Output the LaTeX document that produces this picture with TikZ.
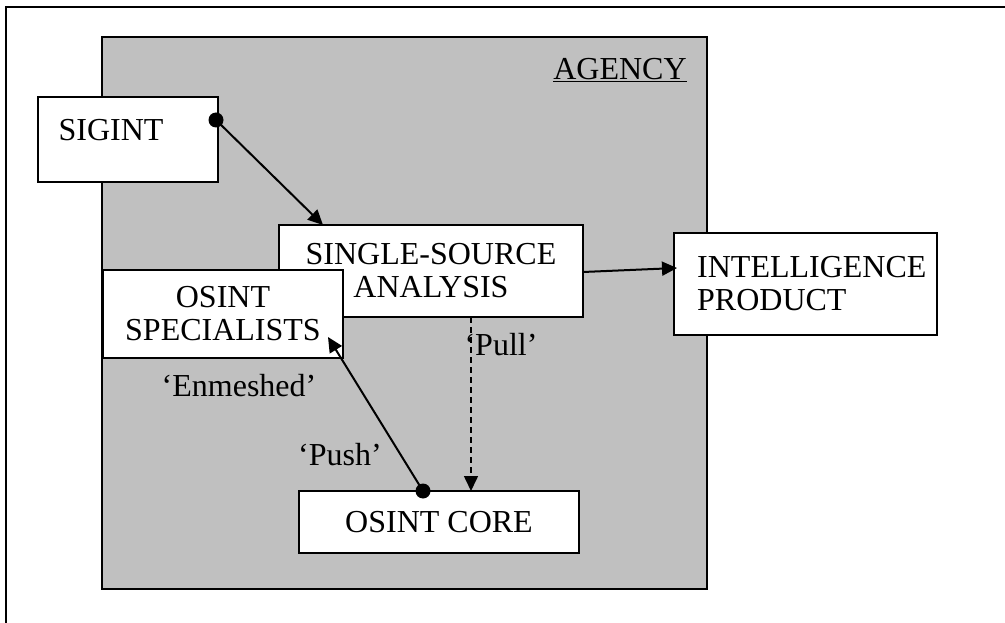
\documentclass[tikz,border=0pt]{standalone}
\usepackage{fontspec}
\setmainfont{Liberation Serif}
\usetikzlibrary{arrows.meta}
\definecolor{agencygray}{HTML}{C0C0C0}
\tikzset{
  box/.style={draw=black, line width=2.4pt, fill=white, inner sep=0pt, outer sep=0pt},
  boxtext/.style={font=\fontsize{32}{35}\selectfont, align=center, inner sep=0pt},
  link/.style={line width=2pt, -{Triangle[length=15pt, width=14pt]}},
  lbl/.style={font=\fontsize{32}{35}\selectfont, inner sep=0pt},
  dotend/.style={fill=black, circle, inner sep=0pt, minimum size=15pt}
}
\begin{document}
\begin{tikzpicture}[x=1pt, y=-1pt]
\useasboundingbox (0,0) rectangle (1005,623);
\fill[white] (0,0) rectangle (1005,623);

% outer frame (open on right and bottom)
\draw[line width=2.4pt] (6,630) -- (6,7) -- (1010,7);

% agency area
\node[draw=black, line width=2.4pt, fill=agencygray, minimum width=605pt, minimum height=552pt, inner sep=0pt] (agency) at (404.5,313) {};
\node[lbl] (agencylbl) at (620,70) {\underline{AGENCY}};

% boxes
\node[box, minimum width=180pt, minimum height=85pt] (sigint) at (128,139.5) {};
\node[boxtext] (sigintlbl) at (111,130) {SIGINT};

\node[box, boxtext, minimum width=304pt, minimum height=92pt] (ssa) at (431,271) {SINGLE-SOURCE\\[-2pt]ANALYSIS};

\node[box, minimum width=263pt, minimum height=102pt] (prod) at (805.5,284) {};
\node[boxtext, align=left, anchor=west] (prodlbl) at (697,284) {INTELLIGENCE\\[-2pt]PRODUCT};

\node[box, boxtext, minimum width=240pt, minimum height=88pt] (spec) at (223,314) {OSINT\\[-2pt]SPECIALISTS};

\node[box, boxtext, minimum width=280pt, minimum height=62pt] (core) at (439,522) {OSINT CORE};

% connector end points
\coordinate (sigdot) at (216,120);
\coordinate (ssatop) at (323,225);
\coordinate (ssaright) at (583,272);
\coordinate (prodleft) at (677,268);
\coordinate (coredot) at (423,491);
\coordinate (spectip) at (328,337);
\coordinate (pullstart) at (471,317);
\coordinate (pullend) at (471,491);

% connectors
\draw[link] (sigdot) -- (ssatop);
\node[dotend] (sigdotmark) at (sigdot) {};
\draw[link] (ssaright) -- (prodleft);
\draw[link, dash pattern=on 6pt off 4pt, line width=1.6pt] (pullstart) -- (pullend);
\draw[link] (coredot) -- (spectip);
\node[dotend] (coredotmark) at (coredot) {};

% labels
\node[lbl] (pulllbl) at (501,345) {‘Pull’};
\node[lbl] (enmlbl) at (239,386) {‘Enmeshed’};
\node[lbl] (pushlbl) at (340,455) {‘Push’};
\end{tikzpicture}
\end{document}
